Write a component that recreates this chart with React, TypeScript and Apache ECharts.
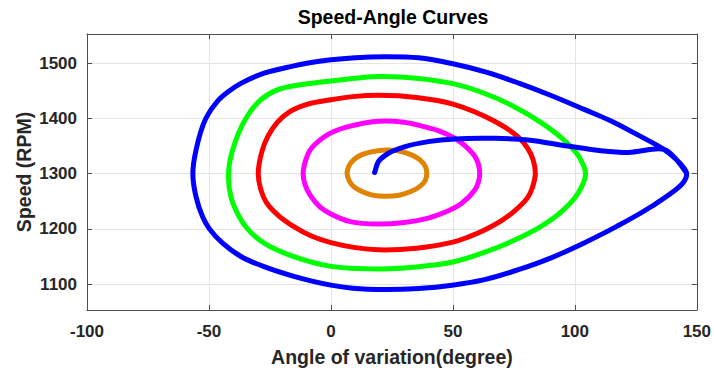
import React, { useEffect, useRef } from "react";
import * as echarts from "echarts";

// Axis ticks
const xTicks = [-100, -50, 0, 50, 100, 150];
const yTicks = [1100, 1200, 1300, 1400, 1500];

// Speed-angle trajectories: [angle (degree), speed (RPM)].
// The four inner orbits are closed rings; the blue run is an open path that ends on its own orbit.
const orangeLoop: [number, number][] = [
  [22.5, 1343], [28, 1341], [33, 1334], [36.5, 1325], [38.7, 1313], [39.3, 1301],
  [38.7, 1288], [36.5, 1277], [33, 1268], [28, 1261], [22.5, 1259], [17, 1261],
  [12.5, 1268], [9.5, 1276], [7.5, 1287], [6.6, 1301], [7.5, 1315], [9.5, 1326],
  [12.5, 1334], [17, 1340],
];

const magentaLoop: [number, number][] = [
  [19.5, 1395], [30, 1393], [40, 1383], [44, 1378], [50, 1366], [53.5, 1356],
  [58.9, 1332], [60.4, 1318], [61, 1300], [60.4, 1284], [58.9, 1270], [53.5, 1246],
  [46.7, 1230], [39.9, 1219.5], [30, 1211.5], [19.5, 1208.6], [8, 1213], [0, 1227],
  [-4.3, 1239], [-8.4, 1260], [-10.6, 1280], [-11.4, 1300], [-10.3, 1325],
  [-8.5, 1343], [-3, 1366], [1, 1376], [8, 1386],
];

const redLoop: [number, number][] = [
  [19.5, 1442], [35, 1438], [50, 1426], [67.1, 1395], [76.6, 1367],
  [80.8, 1345], [82.9, 1325], [83.8, 1300], [82.6, 1275], [80.7, 1257],
  [75.2, 1232], [69.8, 1214.5], [63, 1198], [56.2, 1185], [50, 1176], [35, 1165],
  [19.5, 1162], [10, 1166], [0, 1175], [-8, 1187], [-15.2, 1204], [-21.5, 1224],
  [-26.5, 1248], [-28.8, 1272], [-29.8, 1300], [-28.3, 1340], [-25.8, 1368],
  [-22, 1393], [-17, 1412], [-9.5, 1426], [0, 1434], [10, 1440],
];

const greenLoop: [number, number][] = [
  [19.5, 1476], [35, 1473], [50, 1463], [62, 1447], [74, 1424], [86, 1393],
  [95, 1363], [101.5, 1332], [104.4, 1300], [101.5, 1266], [95, 1233], [86, 1204],
  [74, 1177], [62, 1156], [50, 1140], [36, 1131.5], [20, 1127.5], [0, 1132],
  [-15.2, 1149.6], [-27.4, 1174], [-34.2, 1200], [-37.6, 1222], [-41, 1258],
  [-42, 1300], [-40.3, 1343], [-34.9, 1400], [-28.8, 1433.6], [-22, 1451.7],
  [-12.4, 1461], [0, 1468],
];

const blueTrajectory: [number, number][] = [
  [17.9, 1302], [19.5, 1322], [23.6, 1337], [30.4, 1349], [39.9, 1358],
  [50.8, 1363], [67.1, 1364], [80.7, 1361], [97, 1350], [110, 1342],
  [122, 1338.5], [136.5, 1344],
  [141.5, 1326], [145.8, 1301], [144.3, 1283], [131.2, 1240], [117, 1204],
  [104, 1175], [90, 1147], [76.9, 1126], [63, 1108], [49.7, 1098], [36, 1092],
  [22.5, 1090], [8.9, 1092.5], [0, 1098], [-15.2, 1114], [-27.4, 1131.5],
  [-36.9, 1150], [-44.4, 1174], [-49.8, 1200], [-52.6, 1222], [-55.3, 1258],
  [-56.6, 1300], [-55.3, 1343], [-51.3, 1400], [-46.4, 1432], [-42, 1449],
  [-36.9, 1463.6], [-27.4, 1482], [-16.5, 1494], [-4, 1504], [10, 1510],
  [22, 1512], [36, 1510], [50, 1499], [64, 1483.5], [77, 1464], [90, 1442],
  [104, 1416], [114, 1397], [125, 1372], [136.5, 1344], [141.5, 1326],
  [145.8, 1301],
];

const curves = [
  { name: "orange", data: orangeLoop, closed: true, color: "#e08300" },
  { name: "magenta", data: magentaLoop, closed: true, color: "#ff00ff" },
  { name: "red", data: redLoop, closed: true, color: "#ff0000" },
  { name: "green", data: greenLoop, closed: true, color: "#00ff00" },
  { name: "blue", data: blueTrajectory, closed: false, color: "#0000ff" },
];

const FONT = '"Liberation Sans", Arial, sans-serif';
const AXIS_COLOR = "#4d4d4d";
const TEXT_COLOR = "#262626";

// Centripetal Catmull-Rom spline through pixel points, written as cubic Bezier segments.
function splinePath(pts: number[][], closed: boolean): string {
  const n = pts.length;
  const at = (i: number): number[] => {
    if (closed) return pts[((i % n) + n) % n];
    if (i < 0) return [2 * pts[0][0] - pts[1][0], 2 * pts[0][1] - pts[1][1]];
    if (i >= n) return [2 * pts[n - 1][0] - pts[n - 2][0], 2 * pts[n - 1][1] - pts[n - 2][1]];
    return pts[i];
  };
  const knot = (a: number[], b: number[]) =>
    Math.max(Math.pow(Math.hypot(b[0] - a[0], b[1] - a[1]), 0.5), 1e-4);

  let d = `M${pts[0][0].toFixed(2)},${pts[0][1].toFixed(2)}`;
  const segs = closed ? n : n - 1;
  for (let i = 0; i < segs; i++) {
    const p0 = at(i - 1);
    const p1 = at(i);
    const p2 = at(i + 1);
    const p3 = at(i + 2);
    const t0 = knot(p0, p1);
    const t1 = knot(p1, p2);
    const t2 = knot(p2, p3);
    const c1: number[] = [];
    const c2: number[] = [];
    for (let k = 0; k < 2; k++) {
      const m1 = ((p1[k] - p0[k]) / t0 - (p2[k] - p0[k]) / (t0 + t1) + (p2[k] - p1[k]) / t1) * t1;
      const m2 = ((p2[k] - p1[k]) / t1 - (p3[k] - p1[k]) / (t1 + t2) + (p3[k] - p2[k]) / t2) * t1;
      c1.push(p1[k] + m1 / 3);
      c2.push(p2[k] - m2 / 3);
    }
    d += ` C${c1[0].toFixed(2)},${c1[1].toFixed(2)} ${c2[0].toFixed(2)},${c2[1].toFixed(2)} ${p2[0].toFixed(2)},${p2[1].toFixed(2)}`;
  }
  if (closed) d += " Z";
  return d;
}

export default function App() {
  const ref = useRef<HTMLDivElement>(null);

  useEffect(() => {
    if (!ref.current) return;
    const chart = echarts.init(ref.current, undefined, { renderer: "svg" });

    const tickLabel = {
      fontFamily: FONT,
      fontWeight: "bold" as const,
      fontSize: 17,
      color: TEXT_COLOR,
      formatter: (v: number) => String(v),
    };
    const axisLine = { show: true, onZero: false, lineStyle: { color: AXIS_COLOR, width: 1 } };
    const tick = { show: true, inside: true, length: 5, lineStyle: { color: AXIS_COLOR } };
    const grid = { show: true, lineStyle: { color: "#e4e4e4", width: 1 } };

    chart.setOption({
      animation: false,
      backgroundColor: "#ffffff",
      grid: { left: 87, top: 34, right: 14, bottom: 64, containLabel: false },
      graphic: [
        {
          type: "text",
          x: 393,
          y: 17,
          style: {
            text: "Speed-Angle Curves",
            font: `bold 19.5px ${FONT}`,
            fill: "#000000",
            textAlign: "center",
            textVerticalAlign: "middle",
            align: "center",
            verticalAlign: "middle",
          },
        },
      ],
      xAxis: [
        {
          type: "value",
          position: "bottom",
          min: xTicks[0],
          max: xTicks[xTicks.length - 1],
          interval: 50,
          name: "Angle of variation(degree)",
          nameLocation: "middle",
          nameGap: 37,
          nameMoveOverlap: false,
          nameTextStyle: { fontFamily: FONT, fontWeight: "bold", fontSize: 19.5, color: TEXT_COLOR },
          axisLine,
          axisTick: tick,
          axisLabel: { ...tickLabel, margin: 13 },
          splitLine: grid,
        },
        {
          type: "value",
          position: "top",
          min: xTicks[0],
          max: xTicks[xTicks.length - 1],
          interval: 50,
          axisLine,
          axisTick: tick,
          axisLabel: { show: false },
          splitLine: { show: false },
        },
      ],
      yAxis: [
        {
          type: "value",
          position: "left",
          min: 1053,
          max: 1553,
          name: "Speed (RPM)",
          nameLocation: "middle",
          nameGap: 53,
          nameMoveOverlap: false,
          nameRotate: 90,
          nameTextStyle: { fontFamily: FONT, fontWeight: "bold", fontSize: 19.5, color: TEXT_COLOR },
          axisLine,
          axisTick: { ...tick, customValues: yTicks },
          axisLabel: { ...tickLabel, margin: 10, customValues: yTicks },
          splitLine: grid,
        },
        {
          type: "value",
          position: "right",
          min: 1053,
          max: 1553,
          axisLine,
          axisTick: { ...tick, customValues: yTicks },
          axisLabel: { show: false, customValues: yTicks },
          splitLine: { show: false },
        },
      ],
      series: curves.map((c) => ({
        name: c.name,
        type: "custom",
        coordinateSystem: "cartesian2d",
        xAxisIndex: 0,
        yAxisIndex: 0,
        data: c.data,
        encode: { x: 0, y: 1 },
        clip: true,
        silent: true,
        renderItem: (params: any, api: any) => {
          if (params.dataIndex !== 0) return null;
          const px = c.data.map((p) => api.coord(p) as number[]);
          return {
            type: "path",
            shape: { pathData: splinePath(px, c.closed) },
            style: {
              fill: "none",
              stroke: c.color,
              lineWidth: 5,
              lineJoin: "round",
              lineCap: "round",
            },
          };
        },
      })),
    });

    return () => chart.dispose();
  }, []);

  return (
    <div
      ref={ref}
      style={{ position: "fixed", left: 0, top: 0, width: 714, height: 374, background: "#fff" }}
    />
  );
}
